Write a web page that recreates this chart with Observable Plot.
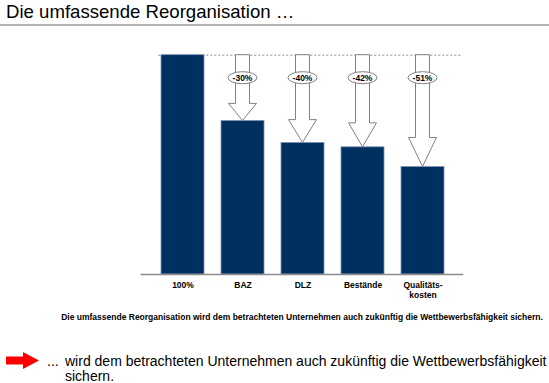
<!DOCTYPE html>
<html>
<head>
<meta charset="utf-8">
<script src="https://cdn.jsdelivr.net/npm/d3@7"></script>
<script src="https://cdn.jsdelivr.net/npm/@observablehq/plot@0.6"></script>
<style>
  html, body { margin: 0; padding: 0; background: #fff; }
  body { width: 549px; height: 383px; position: relative; overflow: hidden; font-family: "Liberation Sans", Arial, sans-serif; color: #000; }
  #title { position: absolute; left: 6px; top: 2px; font-size: 18.6px; line-height: 20px; white-space: nowrap; }
  #rule { position: absolute; left: 0; top: 24px; width: 549px; height: 2px; background: #b3b3b3; }
  #chart { position: absolute; left: 0; top: 30px; }
  #caption { position: absolute; left: 52px; width: 500px; top: 312px; font-size: 8.5px; font-weight: bold; line-height: 10px; text-align: center; white-space: nowrap; }
  #redarrow { position: absolute; left: 0; top: 350px; }
  #dots { position: absolute; left: 47px; top: 354px; font-size: 14px; line-height: 15px; }
  #bottom { position: absolute; left: 65px; top: 354px; font-size: 14px; line-height: 15px; white-space: nowrap; }
</style>
</head>
<body>
<div id="title">Die umfassende Reorganisation …</div>
<div id="rule"></div>
<div id="chart"></div>
<div id="caption">Die umfassende Reorganisation wird dem betrachteten Unternehmen auch zukünftig die Wettbewerbsfähigkeit sichern.</div>
<svg id="redarrow" width="44" height="22"><polygon points="6,6.5 23,6.5 23,2 39,10.5 23,19 23,14.5 6,14.5" fill="#ff0000"/></svg>
<div id="dots">...</div>
<div id="bottom">wird dem betrachteten Unternehmen auch zukünftig die Wettbewerbsfähigkeit<br>sichern.</div>
<script>
const categories = ["100%", "BAZ", "DLZ", "Bestände", "Qualitäts-\nkosten"];
const values = [100, 70, 60, 58, 49];
const reductions = ["", "-30%", "-40%", "-42%", "-51%"];

const data = categories.map((c, i) => ({cat: c, value: values[i], label: reductions[i]}));

function arrows(index, scales) {
  const x = scales.x, y = scales.y;
  const bw = typeof x.bandwidth === "function" ? x.bandwidth() : (x.bandwidth ?? 43);
  const g = d3.create("svg:g");
  data.slice(1).forEach(d => {
    const xc = x(d.cat) + bw / 2;
    const y0 = y(100), y1 = y(d.value);
    const headH = 0.26 * (y1 - y0);
    const sw = 7, hw = 14;
    const pts = [
      [xc - sw, y0], [xc + sw, y0], [xc + sw, y1 - headH], [xc + hw, y1 - headH],
      [xc, y1], [xc - hw, y1 - headH], [xc - sw, y1 - headH]
    ];
    g.append("polygon")
      .attr("points", pts.map(p => p.join(",")).join(" "))
      .attr("fill", "#fff").attr("stroke", "#808080").attr("stroke-width", 1);
    const ly = y0 + 23;
    g.append("ellipse").attr("cx", xc).attr("cy", ly).attr("rx", 14.5).attr("ry", 6)
      .attr("fill", "#fff").attr("stroke", "#808080").attr("stroke-width", 1);
    g.append("text").attr("x", xc).attr("y", ly).attr("dy", "0.35em")
      .attr("text-anchor", "middle").attr("font-size", 8.5).attr("font-weight", "bold")
      .attr("fill", "#000").text(d.label);
  });
  return g.node();
}

const chart = Plot.plot({
  width: 549,
  height: 280,
  marginLeft: 140.7,
  marginRight: 85.7,
  marginTop: 24.7,
  marginBottom: 36,
  style: {fontFamily: "'Liberation Sans', Arial, sans-serif", background: "#fff", color: "#000"},
  x: {type: "band", domain: categories, padding: 0.29, axis: null, label: null},
  y: {domain: [0, 100], axis: null},
  marks: [
    Plot.ruleY([100], {stroke: "#8a8a8a", strokeWidth: 1, strokeDasharray: "2,2", insetLeft: 17.6, insetRight: 1.5}),
    Plot.barY(data, {x: "cat", y: "value", fill: "#00305f", stroke: "#7d92b3", strokeWidth: 0.8}),
    Plot.ruleY([0], {stroke: "#8c8c8c", strokeWidth: 1.5}),
    arrows,
    Plot.axisX({tickSize: 0, tickPadding: 5.5, fontSize: 8.5, fontWeight: "bold", lineHeight: 1.25, label: null})
  ]
});
document.getElementById("chart").appendChild(chart);
</script>
</body>
</html>
